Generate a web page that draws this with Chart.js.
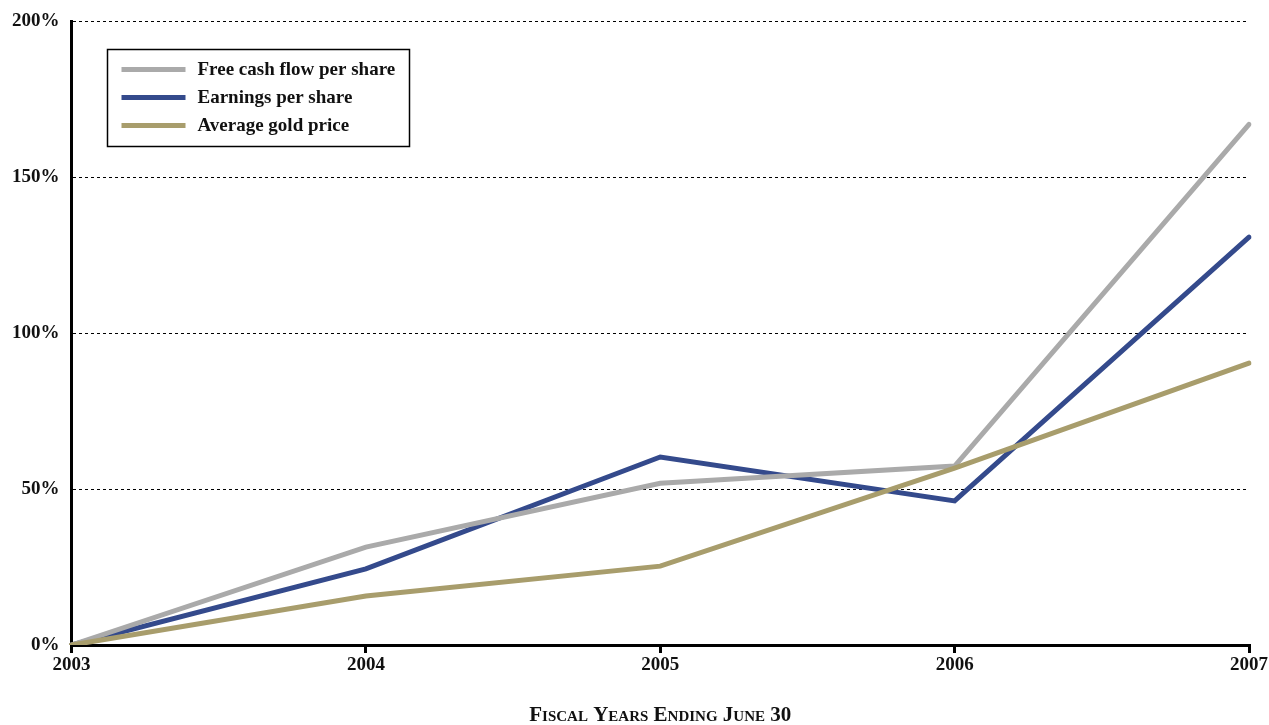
<!DOCTYPE html>
<html>
<head>
<meta charset="utf-8">
<script src="https://cdn.jsdelivr.net/npm/chart.js@4"></script>
<style>
  html, body { margin: 0; padding: 0; background: #fff; }
  #wrap { width: 1269px; height: 725px; }
</style>
</head>
<body>
<div id="wrap"><canvas id="growthChart"></canvas></div>
<script>
// ===== data (cumulative growth since FY2003, %) =====
const years = ['2003', '2004', '2005', '2006', '2007'];
const fcfPerShare = [0, 31.4, 51.9, 57.4, 167.0];
const epsPerShare = [0, 24.4, 60.3, 46.2, 130.8];
const goldPrice   = [0, 15.7, 25.3, 56.7, 90.4];
const yTicks = [0, 50, 100, 150, 200];

const FONT = '"Liberation Serif", "DejaVu Serif", serif';

// legend drawn inside the plot area, with a box round it
const boxLegend = {
  id: 'boxLegend',
  afterDatasetsDraw(chart) {
    const { ctx, chartArea } = chart;
    const x0 = chartArea.left + 36, y0 = chartArea.top + 28;
    const w = 302, h = 97;
    ctx.save();
    ctx.fillStyle = '#fff';
    ctx.fillRect(x0, y0, w, h);
    ctx.strokeStyle = '#000';
    ctx.lineWidth = 1.5;
    ctx.strokeRect(x0, y0, w, h);
    ctx.font = 'bold 19px ' + FONT;
    ctx.textBaseline = 'middle';
    chart.data.datasets.forEach((ds, i) => {
      const y = y0 + 20 + i * 28;
      ctx.strokeStyle = ds.borderColor;
      ctx.lineWidth = 5;
      ctx.beginPath();
      ctx.moveTo(x0 + 14, y);
      ctx.lineTo(x0 + 78, y);
      ctx.stroke();
      ctx.fillStyle = '#111';
      ctx.fillText(ds.label, x0 + 90, y + 1);
    });
    ctx.restore();
  }
};

const ctx = document.getElementById('growthChart').getContext('2d');
new Chart(ctx, {
  type: 'line',
  data: {
    labels: years,
    datasets: [
      { label: 'Free cash flow per share', data: fcfPerShare, borderColor: '#aaaaaa', order: 1 },
      { label: 'Earnings per share', data: epsPerShare, borderColor: '#344a8c', order: 2 },
      { label: 'Average gold price', data: goldPrice, borderColor: '#a89d6c', order: 0 },
    ]
  },
  options: {
    responsive: true,
    maintainAspectRatio: false,
    animation: false,
    layout: { padding: { top: 0, right: 0, left: 0, bottom: 0 } },
    elements: {
      line: { borderWidth: 5, tension: 0, borderCapStyle: 'round', borderJoinStyle: 'miter', fill: false },
      point: { radius: 0 }
    },
    plugins: {
      legend: { display: false },
      tooltip: { enabled: false }
    },
    scales: {
      x: {
        offset: false,
        grid: { drawOnChartArea: false, drawTicks: true, tickLength: 8, lineWidth: 3, color: '#000' },
        border: { display: true, color: '#000', width: 3 },
        ticks: { color: '#111', font: { family: FONT, size: 19, weight: 'bold' }, padding: 1, maxRotation: 0 },
        title: {
          display: true,
          text: 'Fiscal Years Ending June 30',
          color: '#111',
          font: { family: FONT, size: 21, weight: 'small-caps bold' },
          padding: { top: 25, bottom: -3 }
        }
      },
      y: {
        min: 0,
        max: 200,
        afterBuildTicks: (axis) => { axis.ticks = yTicks.map(v => ({ value: v })); },
        grid: { drawTicks: false, color: '#000', lineWidth: 1 },
        border: { display: true, color: '#000', width: 3, dash: [3, 3] },
        ticks: {
          color: '#111',
          font: { family: FONT, size: 19, weight: 'bold', lineHeight: 1.0 },
          padding: 12,
          callback: (v) => v + '%'
        }
      }
    }
  },
  plugins: [boxLegend]
});
</script>
</body>
</html>
